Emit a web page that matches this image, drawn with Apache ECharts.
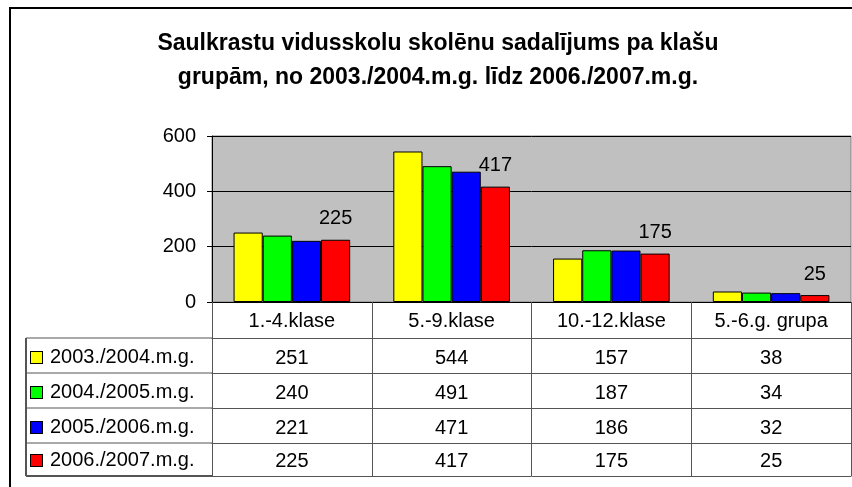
<!DOCTYPE html>
<html>
<head>
<meta charset="utf-8">
<script src="https://cdn.jsdelivr.net/npm/echarts@6/dist/echarts.min.js"></script>
<style>
  html, body { margin: 0; padding: 0; background: #fff; }
  #main { width: 852px; height: 487px; }
</style>
</head>
<body>
<div id="main"></div>
<script>
// dati
var categories = ['1.-4.klase', '5.-9.klase', '10.-12.klase', '5.-6.g. grupa'];
var seriesNames = ['2003./2004.m.g.', '2004./2005.m.g.', '2005./2006.m.g.', '2006./2007.m.g.'];
var y2003 = [251, 544, 157, 38];
var y2004 = [240, 491, 187, 34];
var y2005 = [221, 471, 186, 32];
var y2006 = [225, 417, 175, 25];
var yMin = 0, yMax = 600, yStep = 200;

var rows = [y2003, y2004, y2005, y2006];
var colors = ['#FFFF00', '#00FF00', '#0000FF', '#FF0000'];

var FONT = '"Liberation Sans", Arial, sans-serif';
var FS = 20;
var gridLeft = 212, gridTop = 136, gridRight = 1, zeroY = 302;
var tableLeft = 26;
// table row lines, measured down from the x axis line
var lineOffsets = [36, 71, 106, 141, 174];
var lineColor = '#555555';

var myChart = echarts.init(document.getElementById('main'));

var xAxes = [{
  type: 'category',
  data: categories,
  axisLine: { lineStyle: { color: '#000', width: 1 } },
  axisTick: { show: true, length: lineOffsets[4], lineStyle: { color: lineColor } },
  axisLabel: { show: false }
}, {
  // header row with the class groups
  type: 'category',
  data: categories,
  position: 'bottom',
  offset: lineOffsets[0],
  axisLine: { lineStyle: { color: lineColor } },
  axisTick: { show: false },
  axisLabel: { margin: -27, color: '#000', fontSize: FS, fontFamily: FONT }
}];

rows.forEach(function (row, i) {
  xAxes.push({
    type: 'category',
    data: categories,
    position: 'bottom',
    offset: lineOffsets[i + 1],
    name: '{box|}{txt|' + seriesNames[i] + '}',
    nameLocation: 'start',
    nameGap: gridLeft - 31,
    nameTextStyle: {
      align: 'left',
      verticalAlign: 'middle',
      padding: [0, 0, 31, 0],
      fontSize: FS,
      fontFamily: FONT,
      color: '#000',
      rich: {
        box: { width: 11, height: 11, backgroundColor: colors[i], borderColor: '#000', borderWidth: 1 },
        txt: { fontSize: FS, fontFamily: FONT, color: '#000', padding: [0, 0, 0, 8] }
      }
    },
    axisLine: { lineStyle: { color: lineColor } },
    axisTick: { show: false },
    axisLabel: {
      margin: -25,
      color: '#000',
      fontSize: FS,
      fontFamily: FONT,
      formatter: function (v, idx) {
        return String(row[idx]);
      }
    }
  });
});

var series = rows.map(function (row, i) {
  var s = {
    name: seriesNames[i],
    type: 'bar',
    xAxisIndex: 0,
    data: row,
    barGap: '0%',
    barCategoryGap: '27%',
    itemStyle: { color: colors[i], borderColor: '#000', borderWidth: 1 }
  };
  if (i === 3) {
    s.label = { show: true, position: 'top', distance: 11, color: '#000', fontSize: FS, fontFamily: FONT };
  }
  return s;
});

// legend column of the data table + outer frame
var tableLines = [];
lineOffsets.forEach(function (o, i) {
  tableLines.push({
    type: 'line',
    shape: { x1: tableLeft, y1: zeroY + o, x2: gridLeft, y2: zeroY + o },
    style: { stroke: lineColor, lineWidth: i === 4 ? 2 : 1 }
  });
});
tableLines.push({
  type: 'line',
  shape: { x1: tableLeft, y1: zeroY + lineOffsets[0], x2: tableLeft, y2: zeroY + lineOffsets[4] },
  style: { stroke: lineColor, lineWidth: 2 }
});
tableLines.push({
  type: 'rect',
  shape: { x: 10, y: 8, width: 900, height: 600 },
  style: { fill: 'none', stroke: '#000', lineWidth: 2 }
});

myChart.setOption({
  animation: false,
  title: {
    text: 'Saulkrastu vidusskolu skolēnu sadalījums pa klašu\ngrupām, no 2003./2004.m.g. līdz 2006./2007.m.g.',
    left: 438,
    top: 27,
    padding: 0,
    textAlign: 'center',
    textStyle: { fontSize: 23, fontWeight: 'bold', lineHeight: 34, fontFamily: FONT, color: '#000' }
  },
  grid: {
    left: gridLeft,
    top: gridTop,
    right: gridRight,
    bottom: 487 - zeroY,
    show: true,
    backgroundColor: '#C0C0C0',
    borderColor: '#808080',
    borderWidth: 1,
    containLabel: false,
    outerBoundsMode: 'none'
  },
  xAxis: xAxes,
  yAxis: {
    type: 'value',
    min: yMin,
    max: yMax,
    interval: yStep,
    axisLine: { show: true, lineStyle: { color: '#000' } },
    axisTick: { show: true, length: 5, lineStyle: { color: '#000' } },
    axisLabel: { margin: 16, color: '#000', fontSize: FS, fontFamily: FONT },
    splitLine: { lineStyle: { color: '#000' } }
  },
  graphic: tableLines,
  series: series
});
</script>
</body>
</html>
